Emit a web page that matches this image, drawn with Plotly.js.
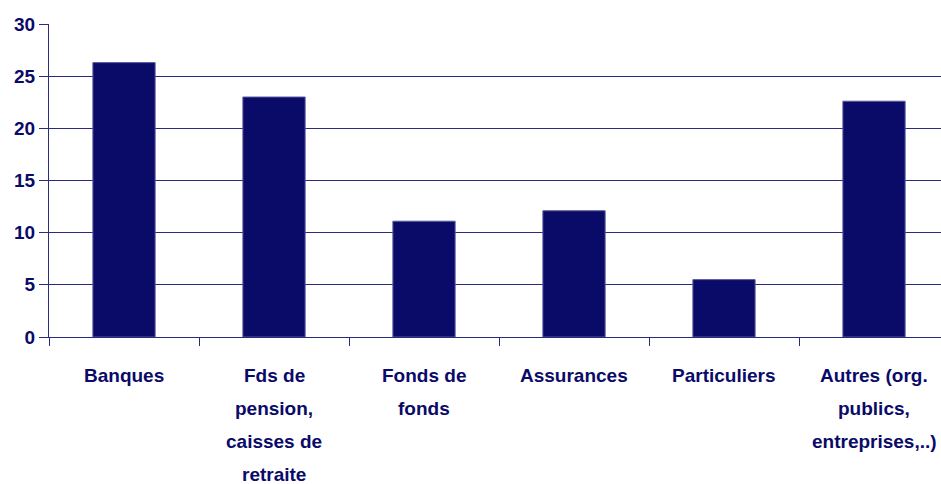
<!DOCTYPE html>
<html>
<head>
<meta charset="utf-8">
<script src="https://cdn.plot.ly/plotly-3.0.1.min.js"></script>
<style>
html,body{margin:0;padding:0;overflow:hidden;background:#fff;}
#chart{width:950px;height:484px;}
</style>
</head>
<body>
<div id="chart"></div>
<script>
// Data
const categories = ["Banques", "Fds de pension", "Fonds de fonds", "Assurances", "Particuliers", "Autres"];
const labelLines = [
  ["Banques"],
  ["Fds de", "pension,", "caisses de", "retraite"],
  ["Fonds de", "fonds"],
  ["Assurances"],
  ["Particuliers"],
  ["Autres (org.", "publics,", "entreprises,..)"]
];
const values = [26.3, 23.0, 11.1, 12.1, 5.5, 22.6];
const yTicks = [0, 5, 10, 15, 20, 25, 30];

const navy = "#0a0a69";
const fontFam = "'Liberation Sans Narrow', 'Arial Narrow', 'Liberation Sans', Arial, sans-serif";

const annotations = [];
labelLines.forEach((lines, ci) => {
  lines.forEach((ln, li) => {
    annotations.push({
      x: categories[ci], y: 0, xref: "x", yref: "y",
      text: ln, showarrow: false,
      xanchor: "center", yanchor: "middle",
      yshift: -(38 + 33 * li),
      font: {family: fontFam, size: 19, color: navy, weight: "bold"}
    });
  });
});

const trace = {
  type: "bar",
  x: categories,
  y: values,
  marker: {color: navy, line: {color: "#5a5a9e", width: 1}},
  hoverinfo: "skip"
};

const layout = {
  width: 950, height: 484,
  margin: {l: 49, r: 1, t: 24, b: 147},
  paper_bgcolor: "#fff", plot_bgcolor: "#fff",
  showlegend: false,
  bargap: 0.585,
  xaxis: {
    type: "category",
    showticklabels: false,
    showgrid: false,
    showline: true, linecolor: "#2a2a80", linewidth: 1,
    ticks: "outside", tickson: "boundaries", ticklen: 8, tickcolor: "#2a2a80", tickwidth: 1,
    zeroline: false
  },
  yaxis: {
    range: [0, 30],
    tickmode: "array", tickvals: yTicks, ticktext: yTicks.map(String),
    showgrid: true, gridcolor: "#2a2a80", gridwidth: 1,
    showline: true, linecolor: "#2a2a80", linewidth: 1,
    ticks: "outside", ticklen: 9, tickcolor: "#2a2a80",
    zeroline: false,
    tickfont: {family: fontFam, size: 19, color: navy, weight: "bold"}
  },
  annotations: annotations
};

Plotly.newPlot("chart", [trace], layout, {displayModeBar: false, staticPlot: true});
</script>
</body>
</html>
